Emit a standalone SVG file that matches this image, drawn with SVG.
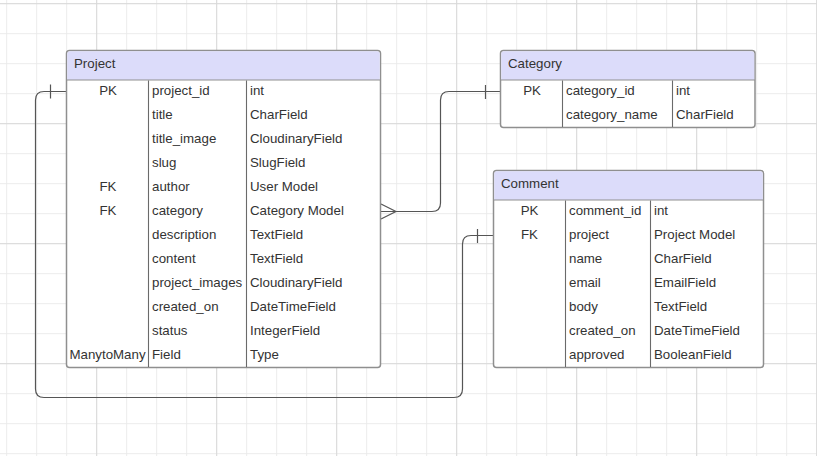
<svg xmlns="http://www.w3.org/2000/svg" width="817" height="456" viewBox="0 0 817 456">
<defs>
<pattern id="minor" patternUnits="userSpaceOnUse" x="0" y="0" width="30" height="30">
<path d="M6.7 0V30M0 3.7H30" stroke="#ebebeb" stroke-width="1" fill="none"/>
</pattern>
<pattern id="major" patternUnits="userSpaceOnUse" x="0" y="0" width="120" height="120">
<path d="M96.7 0V120M0 3.7H120" stroke="#d9d9d9" stroke-width="1" fill="none"/>
</pattern>
<style>
text{font-family:"Liberation Sans",Arial,sans-serif;font-size:13.3px;fill:#333}
.c{text-anchor:middle}
.box{fill:#fff;stroke:#8f8f8f;stroke-width:1.5}
.hdr{fill:#dcdcfa}
.hl{stroke:#8f8f8f;stroke-width:1.2}
.div{stroke:#6a6a6a;stroke-width:1.1}
.conn{fill:none;stroke:#555;stroke-width:1.2}
</style>
</defs>
<rect width="817" height="456" fill="#fff"/>
<rect width="817" height="456" fill="url(#minor)"/>
<rect width="817" height="456" fill="url(#major)"/>

<g id="connectors">
<path class="conn" d="M381 211.5H432Q440.5 211.5 440.5 203V100Q440.5 91.5 449 91.5H500.5"/>
<path class="conn" d="M381 204L396 211.5L381 219"/>
<path class="conn" d="M485.5 85V99"/>
<path class="conn" d="M66.5 91.5H44Q35.5 91.5 35.5 100V389Q35.5 397.5 44 397.5H454Q462.5 397.5 462.5 389V244Q462.5 235.5 471 235.5H493.5"/>
<path class="conn" d="M50.5 84.5V98.5"/>
<path class="conn" d="M477.5 229V243"/>
</g>

<g id="project">
<rect class="box" x="66.5" y="50.5" width="314" height="317" rx="3"/>
<path class="hdr" d="M67.25 80V54Q67.25 51.25 70 51.25H377Q379.75 51.25 379.75 54V80Z"/>
<line class="hl" x1="66.5" y1="80" x2="380.5" y2="80"/>
<line class="div" x1="148.5" y1="80.5" x2="148.5" y2="367"/>
<line class="div" x1="246.5" y1="80.5" x2="246.5" y2="367"/>
<text x="74" y="68">Project</text>
<text class="c" x="108" y="95">PK</text>
<text x="152" y="95">project_id</text><text x="250" y="95">int</text>
<text x="152" y="119">title</text><text x="250" y="119">CharField</text>
<text x="152" y="143">title_image</text><text x="250" y="143">CloudinaryField</text>
<text x="152" y="167">slug</text><text x="250" y="167">SlugField</text>
<text class="c" x="108" y="191">FK</text>
<text x="152" y="191">author</text><text x="250" y="191">User Model</text>
<text class="c" x="108" y="215">FK</text>
<text x="152" y="215">category</text><text x="250" y="215">Category Model</text>
<text x="152" y="239">description</text><text x="250" y="239">TextField</text>
<text x="152" y="263">content</text><text x="250" y="263">TextField</text>
<text x="152" y="287">project_images</text><text x="250" y="287">CloudinaryField</text>
<text x="152" y="311">created_on</text><text x="250" y="311">DateTimeField</text>
<text x="152" y="335">status</text><text x="250" y="335">IntegerField</text>
<text class="c" x="107.5" y="359">ManytoMany</text>
<text x="152" y="359">Field</text><text x="250" y="359">Type</text>
</g>

<g id="category">
<rect class="box" x="500.5" y="50.5" width="254.5" height="77" rx="3"/>
<path class="hdr" d="M501.25 80V54Q501.25 51.25 504 51.25H751.5Q754.25 51.25 754.25 54V80Z"/>
<line class="hl" x1="500.5" y1="80" x2="755" y2="80"/>
<line class="div" x1="562.5" y1="80.5" x2="562.5" y2="127"/>
<line class="div" x1="672.5" y1="80.5" x2="672.5" y2="127"/>
<text x="508" y="68">Category</text>
<text class="c" x="532" y="95">PK</text>
<text x="566" y="95">category_id</text><text x="676" y="95">int</text>
<text x="566" y="119">category_name</text><text x="676" y="119">CharField</text>
</g>

<g id="comment">
<rect class="box" x="493.5" y="170.5" width="270" height="197" rx="3"/>
<path class="hdr" d="M494.25 200V174Q494.25 171.25 497 171.25H760Q762.75 171.25 762.75 174V200Z"/>
<line class="hl" x1="493.5" y1="200" x2="763.5" y2="200"/>
<line class="div" x1="565.5" y1="200.5" x2="565.5" y2="367"/>
<line class="div" x1="650.5" y1="200.5" x2="650.5" y2="367"/>
<text x="501" y="188">Comment</text>
<text class="c" x="529.5" y="215">PK</text>
<text x="569" y="215">comment_id</text><text x="654" y="215">int</text>
<text class="c" x="529.5" y="239">FK</text>
<text x="569" y="239">project</text><text x="654" y="239">Project Model</text>
<text x="569" y="263">name</text><text x="654" y="263">CharField</text>
<text x="569" y="287">email</text><text x="654" y="287">EmailField</text>
<text x="569" y="311">body</text><text x="654" y="311">TextField</text>
<text x="569" y="335">created_on</text><text x="654" y="335">DateTimeField</text>
<text x="569" y="359">approved</text><text x="654" y="359">BooleanField</text>
</g>
</svg>
